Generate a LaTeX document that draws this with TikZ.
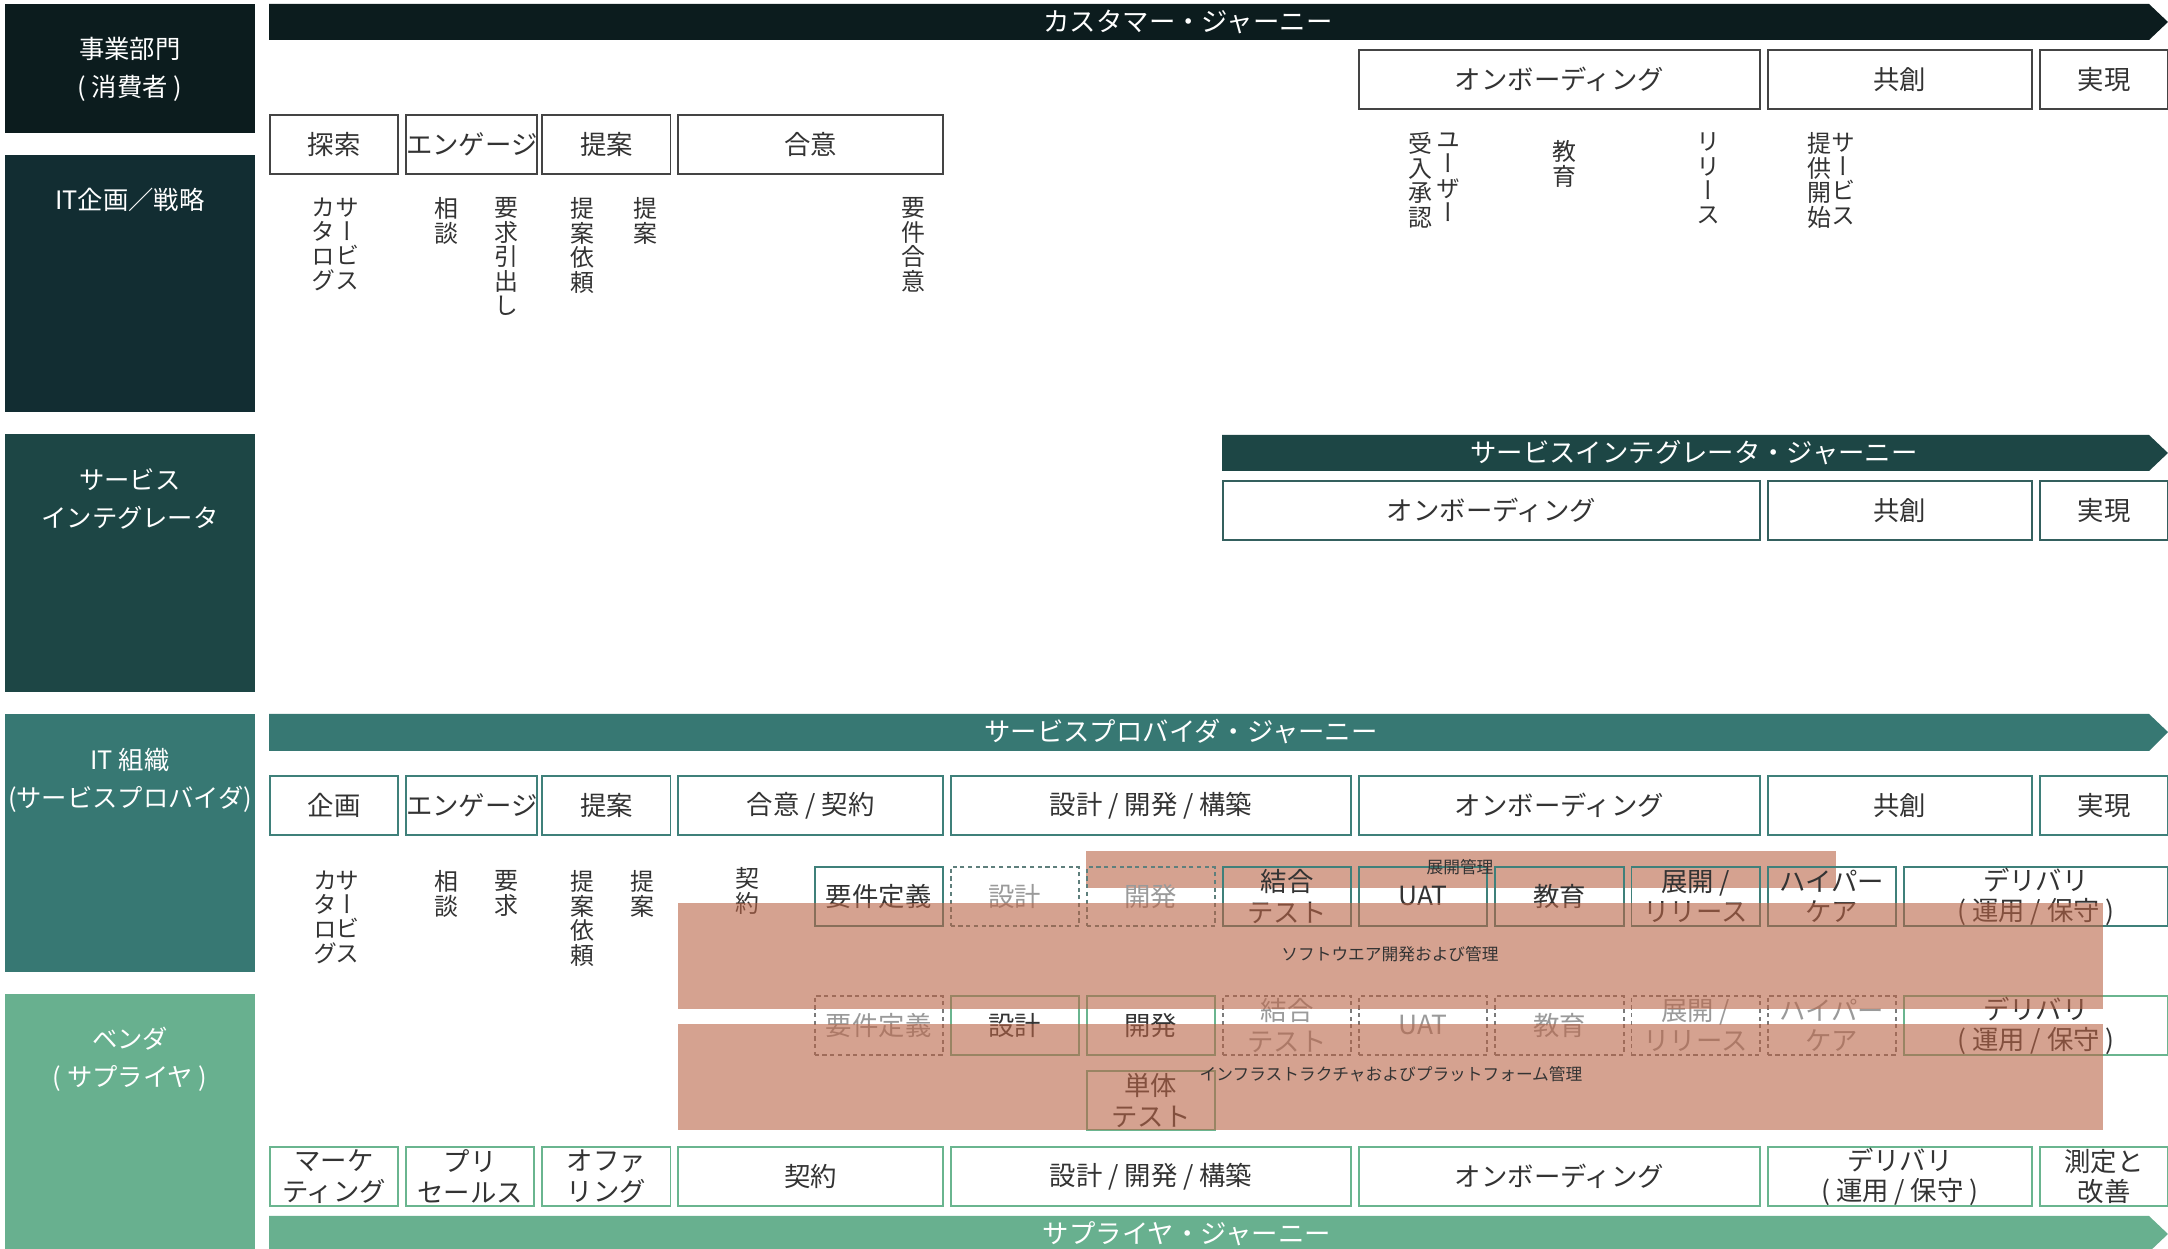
\documentclass[tikz,border=0pt]{standalone}
\usepackage{fontspec}
\setmainfont{Noto Sans CJK JP}
\newfontfamily\tatefont[RawFeature=+vert]{Noto Sans CJK JP}
\usetikzlibrary{positioning}

\definecolor{bizdark}{HTML}{0C1C1E}
\definecolor{itplan}{HTML}{122D32}
\definecolor{integ}{HTML}{1D4645}
\definecolor{provider}{HTML}{377873}
\definecolor{vendor}{HTML}{68B08F}
\definecolor{salmon}{RGB}{213,162,144}
\definecolor{salmonbase}{RGB}{185,100,70}
\definecolor{ink}{HTML}{333333}
\definecolor{faint}{HTML}{9A9A9A}
\definecolor{custline}{HTML}{444444}
\definecolor{siline}{HTML}{34605E}
\definecolor{spline}{HTML}{3F807A}
\definecolor{spdash}{HTML}{5E7F7C}
\definecolor{venline}{HTML}{6AB58F}
\definecolor{vendash}{HTML}{7A7A7A}

\tikzset{
  lanelabel/.style={text=white, align=center, inner sep=0pt, font=\fontsize{7.2}{10.8}\selectfont},
  journeylabel/.style={text=white, inner sep=0pt, font=\fontsize{7.5}{9}\selectfont},
  stagebox/.style={draw=#1, line width=0.55pt, anchor=north west, minimum height=0.59cm,
    inner sep=0pt, align=center, text=ink, font=\fontsize{7.5}{8.6}\selectfont},
  ghostbox/.style={stagebox=#1, dash pattern=on 1.2pt off 1pt, text=faint},
  tate/.style={anchor=north, inner sep=0pt, align=center, text=ink,
    font=\tatefont\fontsize{6.8}{6.95}\selectfont},
  areanote/.style={inner sep=0pt, text=ink, font=\fontsize{4.75}{5.5}\selectfont},
}

\begin{document}
\begin{tikzpicture}[x=0.01cm, y=-0.01cm]
\useasboundingbox (0,0) rectangle (2168,1249);

% lanes
\fill[bizdark] (5,4) rectangle (255,133);
\fill[itplan] (5,155) rectangle (255,412);
\fill[integ] (5,434) rectangle (255,692);
\fill[provider] (5,714) rectangle (255,972);
\fill[vendor] (5,994) rectangle (255,1249);
\node[lanelabel] (biz) at (130,69) {事業部門\\( 消費者 )};
\node[lanelabel] (plan) at (130,200) {IT企画／戦略};
\node[lanelabel] (si) at (130,499) {サービス\\インテグレータ};
\node[lanelabel] (org) at (130,780) {IT 組織\\(サービスプロバイダ)};
\node[lanelabel] (ven) at (130,1059) {ベンダ\\( サプライヤ )};

% journeys
\fill[bizdark] (269,4) -- (2149,4) -- (2168,22) -- (2149,40) -- (269,40) -- cycle;
\node[journeylabel] (cust) at (1188,22) {カスタマー・ジャーニー};
\fill[integ] (1222,435) -- (2149,435) -- (2168,453) -- (2149,471) -- (1222,471) -- cycle;
\node[journeylabel] (sij) at (1694,453) {サービスインテグレータ・ジャーニー};
\fill[provider] (269,714) -- (2149,714) -- (2168,732) -- (2149,751) -- (269,751) -- cycle;
\node[journeylabel] (spj) at (1181,732) {サービスプロバイダ・ジャーニー};
\fill[vendor] (269,1216) -- (2149,1216) -- (2168,1234) -- (2149,1252) -- (269,1252) -- cycle;
\node[journeylabel] (supj) at (1187,1234) {サプライヤ・ジャーニー};

% customer stages
\foreach \cx/\cw/\lbl in {8/3/オンボーディング, 11/2/共創, 13/1/実現}
  \node[stagebox=custline, minimum width={\cw*1.3615cm-0.08cm}] (cu-\cx) at ({269+136.15*\cx},49) {\lbl};
\foreach \cx/\cw/\lbl in {0/1/探索, 1/1/エンゲージ, 2/1/提案, 3/2/合意}
  \node[stagebox=custline, minimum width={\cw*1.3615cm-0.08cm}] (cm-\cx) at ({269+136.15*\cx},114) {\lbl};

% customer steps
\node[tate] (pc-a) at (347,197) {サ\\ー\\ビ\\ス};
\node[tate] (pc-b) at (323,197) {カ\\タ\\ロ\\グ};
\node[tate] (pc-c) at (446,197) {相\\談};
\node[tate] (pc-d) at (506,197) {要\\求\\引\\出\\し};
\node[tate] (pc-e) at (582,197) {提\\案\\依\\頼};
\node[tate] (pc-f) at (645,197) {提\\案};
\node[tate] (pc-g) at (913,197) {要\\件\\合\\意};
\node[tate] (pc-h) at (1448,132) {ユ\\ー\\ザ\\ー};
\node[tate] (pc-i) at (1420,132) {受\\入\\承\\認};
\node[tate] (pc-j) at (1564,140) {教\\育};
\node[tate] (pc-k) at (1708,132) {リ\\リ\\ー\\ス};
\node[tate] (pc-l) at (1843,132) {サ\\ー\\ビ\\ス};
\node[tate] (pc-m) at (1819,132) {提\\供\\開\\始};

% integrator stages
\foreach \cx/\cw/\lbl in {7/4/オンボーディング, 11/2/共創, 13/1/実現}
  \node[stagebox=siline, minimum width={\cw*1.3615cm-0.08cm}] (si-\cx) at ({269+136.15*\cx},480) {\lbl};

% provider stages
\foreach \cx/\cw/\lbl in {0/1/企画, 1/1/エンゲージ, 2/1/提案, 3/2/{合意 / 契約}, 5/3/{設計 / 開発 / 構築},
    8/3/オンボーディング, 11/2/共創, 13/1/実現}
  \node[stagebox=spline, minimum width={\cw*1.3615cm-0.08cm}] (sp-\cx) at ({269+136.15*\cx},775) {\lbl};

\node[tate] (po-a) at (347,870) {サ\\ー\\ビ\\ス};
\node[tate] (po-b) at (325,870) {カ\\タ\\ロ\\グ};
\node[tate] (po-c) at (446,870) {相\\談};
\node[tate] (po-d) at (506,870) {要\\求};
\node[tate] (po-e) at (582,870) {提\\案\\依\\頼};
\node[tate] (po-f) at (642,870) {提\\案};
\node[tate] (po-g) at (747,867) {契\\約};

% deployment band
\fill[salmon] (1086,851) rectangle (1836,888);

% provider work items
\foreach \cx/\cw/\lbl in {4/1/要件定義, 7/1/{結合\\テスト}, 8/1/UAT, 9/1/教育, 10/1/{展開 /\\リリース},
    11/1/{ハイパー\\ケア}, 12/2/{デリバリ\\( 運用 / 保守 )}}
  \node[stagebox=spline, minimum width={\cw*1.3615cm-0.08cm}] (pw-\cx) at ({269+136.15*\cx},866) {\lbl};
\foreach \cx/\lbl in {5/設計, 6/開発}
  \node[ghostbox=spdash, minimum width=1.2815cm] (pg-\cx) at ({269+136.15*\cx},866) {\lbl};

% vendor work items
\foreach \cx/\cw/\lbl in {5/1/設計, 6/1/開発, 12/2/{デリバリ\\( 運用 / 保守 )}}
  \node[stagebox=venline, minimum width={\cw*1.3615cm-0.08cm}] (vw-\cx) at ({269+136.15*\cx},995) {\lbl};
\foreach \cx/\lbl in {4/要件定義, 7/{結合\\テスト}, 8/UAT, 9/教育, 10/{展開 /\\リリース}, 11/{ハイパー\\ケア}}
  \node[ghostbox=vendash, minimum width=1.2815cm] (vg-\cx) at ({269+136.15*\cx},995) {\lbl};
\node[stagebox=venline, minimum width=1.2815cm] (unit) at ({269+136.15*6},1070) {単体\\テスト};

% vendor stages
\foreach \cx/\cw/\lbl in {0/1/{マーケ\\ティング}, 1/1/{プリ\\セールス}, 2/1/{オファ\\リング}, 3/2/契約,
    5/3/{設計 / 開発 / 構築}, 8/3/オンボーディング, 11/2/{デリバリ\\( 運用 / 保守 )}, 13/1/{測定と\\改善}}
  \node[stagebox=venline, minimum width={\cw*1.3615cm-0.08cm}] (vs-\cx) at ({269+136.15*\cx},1146) {\lbl};

% management areas
\fill[salmonbase, fill opacity=0.6] (678,903) rectangle (2103,1009);
\fill[salmonbase, fill opacity=0.6] (678,1024) rectangle (2103,1130);
\node[areanote] (deploy) at (1460,867) {展開管理};
\node[areanote] (swmgmt) at (1390,954) {ソフトウエア開発および管理};
\node[areanote] (infra) at (1391,1074) {インフラストラクチャおよびプラットフォーム管理};
\end{tikzpicture}
\end{document}
